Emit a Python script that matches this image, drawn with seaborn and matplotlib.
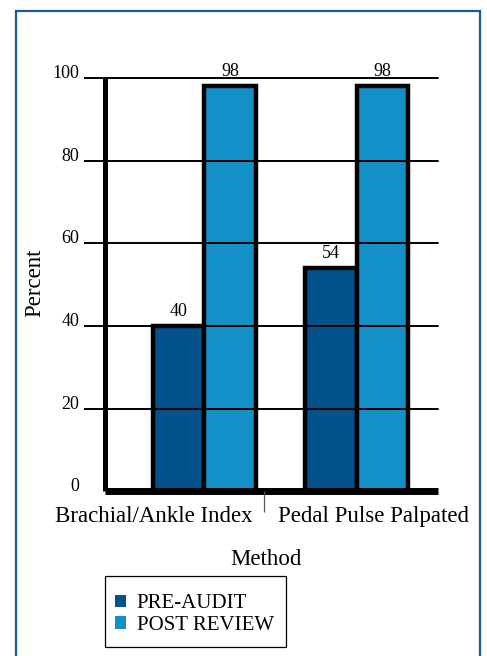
import matplotlib
matplotlib.use("Agg")
import matplotlib.pyplot as plt
from matplotlib.patches import Patch, Rectangle
import seaborn as sns
import pandas as pd

# ---- data ----
categories = ["Brachial/Ankle Index", "Pedal Pulse Palpated"]
series_names = ["PRE-AUDIT", "POST REVIEW"]
pre_audit = [40, 54]
post_review = [98, 98]
y_ticks = [0, 20, 40, 60, 80, 100]
x_title = "Method"
y_title = "Percent"

df = pd.DataFrame({
    "Method": categories * 2,
    "Phase": [series_names[0]] * len(categories) + [series_names[1]] * len(categories),
    "Percent": pre_audit + post_review,
})

# ---- style ----
sns.set_theme(style="white")
plt.rcParams["font.family"] = ["Liberation Serif", "DejaVu Serif"]
plt.rcParams["text.color"] = "black"
plt.rcParams["axes.labelcolor"] = "black"
plt.rcParams["xtick.color"] = "black"
plt.rcParams["ytick.color"] = "black"

dark = "#03528C"
light = "#1490C8"
frame_blue = "#1A56A3"

W, H = 487, 656
fig = plt.figure(figsize=(W / 100, H / 100), dpi=100)
ax = fig.add_axes([104.5 / W, 1 - 491.4 / H, (438 - 104.5) / W, (491.4 - 78) / H])

sns.barplot(data=df, x="Method", y="Percent", hue="Phase",
            palette=[dark, light], width=0.675, edgecolor="black",
            linewidth=3.2, legend=False, ax=ax, saturation=1)

ax.set_xlim(-0.654, 1.533)
ax.set_ylim(0, 100)
ax.set_xlabel("")
ax.set_ylabel("")

# spines
for s in ["top", "right"]:
    ax.spines[s].set_visible(False)
ax.spines["left"].set_linewidth(3.6)
ax.spines["bottom"].set_linewidth(5)
for s in ["left", "bottom"]:
    ax.spines[s].set_color("black")
    ax.spines[s].set_capstyle("butt")

# y axis ticks + grid on top of bars
ax.set_axisbelow(False)
ax.set_yticks(y_ticks)
ax.set_yticklabels([str(v) for v in y_ticks], fontsize=13, va="baseline")
ax.tick_params(axis="y", direction="out", length=15, width=1.4, pad=3, left=True)
ax.yaxis.grid(True, color="black", linewidth=1.4)
ax.xaxis.grid(False)
for t in ax.yaxis.get_major_ticks():
    t.gridline.set_clip_on(False)
ax.yaxis.get_major_ticks()[0].tick1line.set_visible(False)
ax.yaxis.get_major_ticks()[0].gridline.set_visible(False)

# x axis: separator tick only, labels on either side
sep = 0.39
ax.set_xticks([])
ax.set_xticks([sep], minor=True)
ax.tick_params(axis="x", which="minor", direction="out", length=15, width=0.9,
               color="#555555", bottom=True)
offsets = [(-8, -21.8, "right"), (10, -21.8, "left")]
for cat, (dx, dy, ha) in zip(categories, offsets):
    ax.annotate(cat, xy=(sep, 0), xycoords=("data", "axes fraction"),
                xytext=(dx, dy), textcoords="offset points",
                ha=ha, va="baseline", fontsize=16.5)

# value labels
for cont in ax.containers:
    for p in cont:
        h = p.get_height()
        ax.annotate(f"{h:.0f}", xy=(p.get_x() + p.get_width() / 2, h),
                    xytext=(0, 7.3), textcoords="offset points",
                    ha="center", va="baseline", fontsize=13)

# axis titles
fig.text(266 / W, 1 - 565 / H, x_title, ha="center", va="baseline", fontsize=16.5)
fig.text(40 / W, 1 - 283 / H, y_title, ha="center", va="baseline", rotation=90,
         rotation_mode="anchor", fontsize=16.5)

# legend (frame drawn separately)
handles = [Patch(facecolor=dark, edgecolor="none"), Patch(facecolor=light, edgecolor="none")]
leg = fig.legend(handles, series_names, loc="upper left",
                 bbox_to_anchor=(102 / W, 1 - 582 / H), bbox_transform=fig.transFigure,
                 fontsize=15, frameon=False,
                 handlelength=0.53, handleheight=0.53,
                 handletextpad=0.53, borderpad=0.6, labelspacing=0.12,
                 borderaxespad=0)
fig.patches.append(Rectangle((105 / W, 1 - 647 / H), (286 - 105) / W, (647 - 576) / H,
                             transform=fig.transFigure, fill=False,
                             edgecolor="black", linewidth=0.9))

# outer blue frame
fig.patches.append(Rectangle((16 / W, -0.05), (480 - 16) / W, 1 - 11 / H + 0.05,
                             transform=fig.transFigure, fill=False,
                             edgecolor=frame_blue, linewidth=1.6))

fig.savefig("out.png", dpi=100)
